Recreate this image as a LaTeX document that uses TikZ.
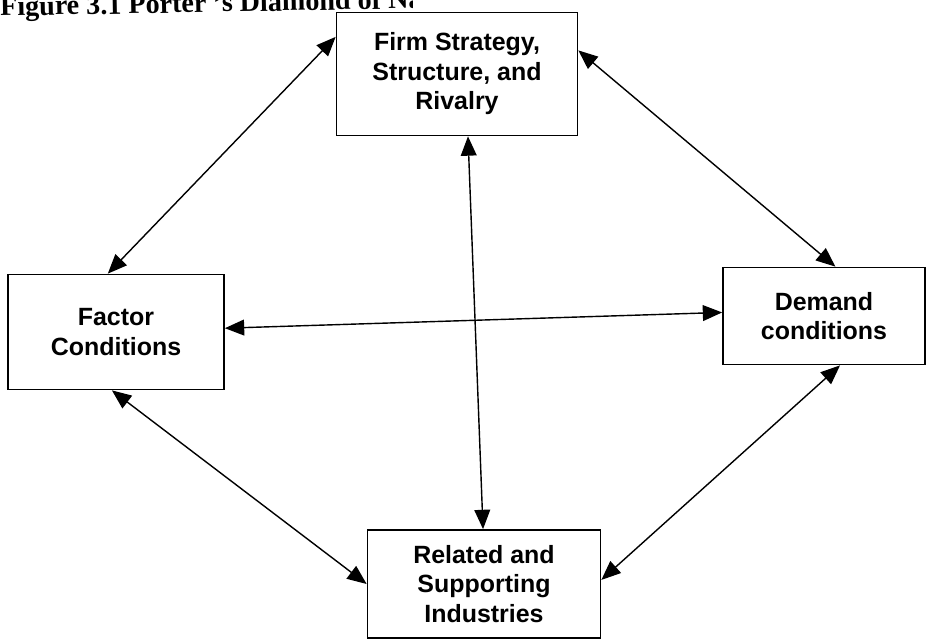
\documentclass[tikz,border=0pt]{standalone}
\usepackage{fontspec}
\setmainfont{Liberation Serif}
\newfontfamily\arialfont{Liberation Sans}
\usetikzlibrary{arrows.meta,positioning}

\tikzset{
    box/.style={draw, line width=1pt, fill=white, align=center,
        font=\arialfont\bfseries\fontsize{14.2}{16.8}\selectfont},
    link/.style={line width=0.8pt, {Triangle[length=11pt,width=9pt]}-{Triangle[length=11pt,width=9pt]}}
}

\begin{document}
\begin{tikzpicture}[x=0.02cm,y=-0.02cm]
            \useasboundingbox (0,0) rectangle (927,642);

            \begin{scope}
                \clip (0,0) rectangle (412,30);
                \node[anchor=base west, inner sep=0pt, rotate=1.05, font=\bfseries\fontsize{16}{19}\selectfont] (title) at (0,16) {Figure 3.1 Porter 's Diamond of National Advantage};
            \end{scope}

            \node[box, minimum width=4.82cm, minimum height=2.46cm] (firm) at (457,74) {Firm Strategy,\\Structure, and\\Rivalry};
            \node[box, minimum width=4.32cm, minimum height=2.3cm] (factor) at (116,332) {Factor\\Conditions};
            \node[box, minimum width=4.04cm, minimum height=1.94cm] (demand) at (824,316) {Demand\\conditions};
            \node[box, minimum width=4.66cm, minimum height=2.16cm] (related) at (484,584) {Related and\\Supporting\\Industries};

            \draw[link] (firm.163) -- (factor.98);
            \draw[link] (firm.11) -- (demand.77);
            \draw[link] (firm.280) -- (related.91);
            \draw[link] (factor.2) -- (demand.178);
            \draw[link] (factor.266) -- (related.west);
            \draw[link] (demand.288) -- (related.2);
        \end{tikzpicture}
\end{document}
